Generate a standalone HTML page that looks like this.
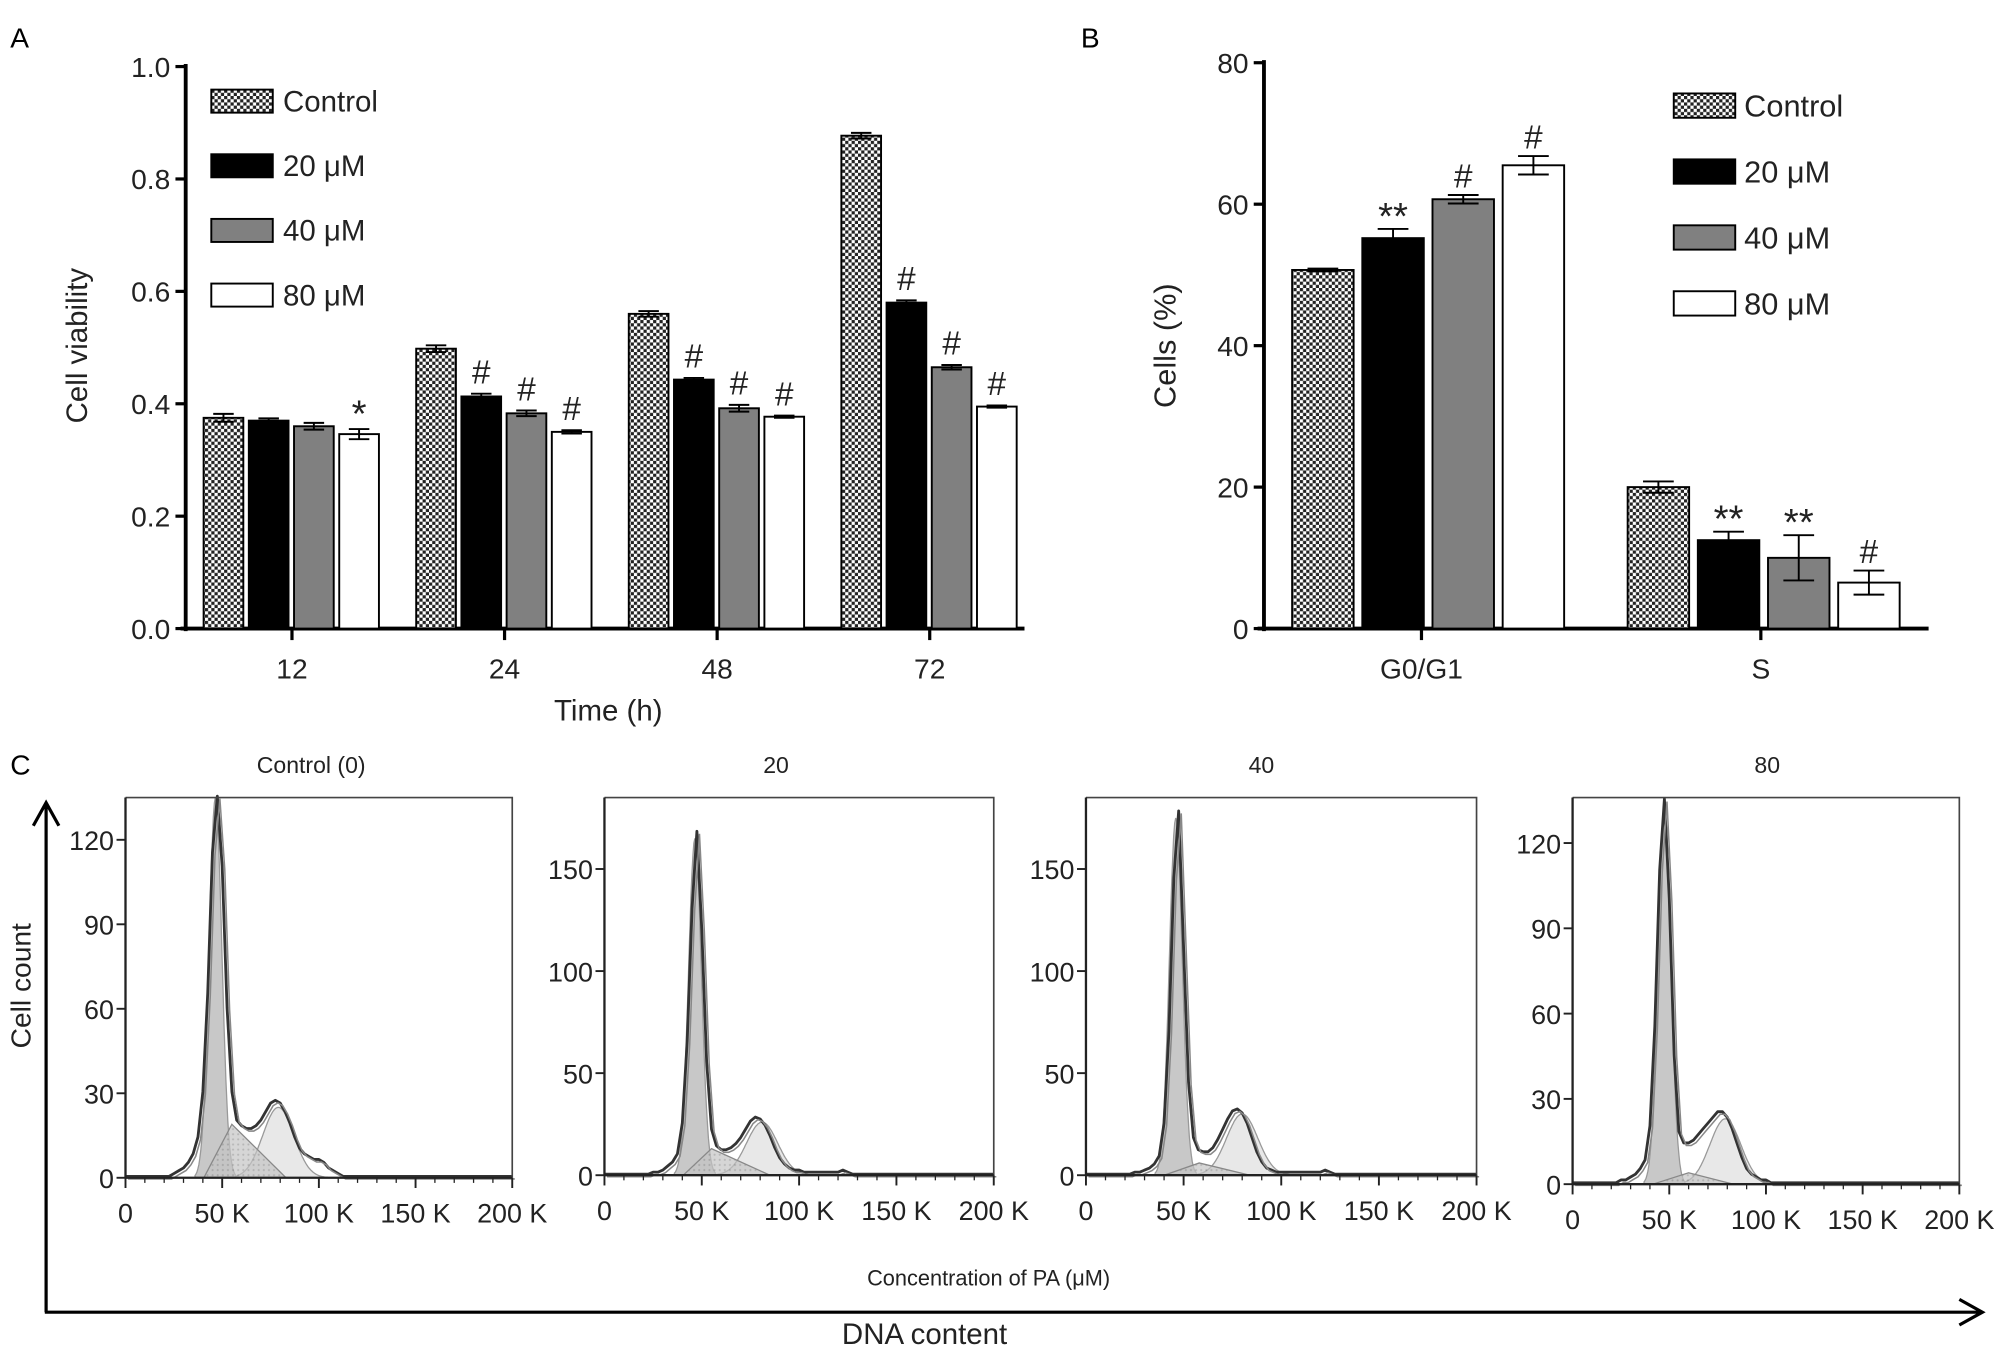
<!DOCTYPE html>
<html><head><meta charset="utf-8"><style>
html,body{margin:0;padding:0;background:#fff;}
svg{display:block;font-family:"Liberation Sans",sans-serif;}
</style></head><body>
<svg id="fig" width="2008" height="1357" viewBox="0 0 1568 1060" preserveAspectRatio="none" xmlns="http://www.w3.org/2000/svg">
<defs>
<pattern id="chk" width="5" height="5" patternUnits="userSpaceOnUse">
<rect width="5" height="5" fill="#fff"/><rect width="2.5" height="2.5" fill="#222"/><rect x="2.5" y="2.5" width="2.5" height="2.5" fill="#222"/>
</pattern>
<pattern id="dots" width="4" height="4" patternUnits="userSpaceOnUse">
<rect width="4" height="4" fill="#c4c4c4"/><circle cx="2" cy="2" r="0.8" fill="#999"/>
</pattern>
</defs>
<g id="A"></g>
<g id="B"></g>
<g id="C"></g>
</svg>
<script>
// ---- Panel A data ----
const aCategories = ["12","24","48","72"];
const aSeries = ["Control","20 μM","40 μM","80 μM"];
const aControl = [0.375,0.498,0.560,0.877];
const a20 = [0.370,0.413,0.443,0.580];
const a40 = [0.360,0.383,0.392,0.465];
const a80 = [0.346,0.350,0.377,0.395];
const aErrControl = [0.007,0.006,0.005,0.005];
const aErr20 = [0.004,0.005,0.003,0.004];
const aErr40 = [0.006,0.005,0.006,0.004];
const aErr80 = [0.009,0.003,0.002,0.002];
const aMarks20 = ["","#","#","#"];
const aMarks40 = ["","#","#","#"];
const aMarks80 = ["*","#","#","#"];
const aTicks = ["0.0","0.2","0.4","0.6","0.8","1.0"];
// ---- Panel B data ----
const bCategories = ["G0/G1","S"];
const bControl = [50.7,20.0];
const b20 = [55.2,12.5];
const b40 = [60.7,10.0];
const b80 = [65.5,6.5];
const bErrControl = [0.2,0.8];
const bErr20 = [1.3,1.2];
const bErr40 = [0.6,3.2];
const bErr80 = [1.3,1.7];
const bMarks20 = ["**","**"];
const bMarks40 = ["#","**"];
const bMarks80 = ["#","#"];
const bTicks = ["0","20","40","60","80"];
// ---- Panel C data ----
const cTitles = ["Control (0)","20","40","80"];
const cBins = [20,22.5,25,27.5,30,32.5,35,37.5,40,42.5,45,47.5,50,52.5,55,57.5,60,62.5,65,67.5,70,72.5,75,77.5,80,82.5,85,87.5,90,92.5,95,97.5,100,102.5,105,107.5,110,112.5,115,117.5,120,122.5,125,127.5,130];
const cCount0 = [0,0,1,2,3,5,8,14,30,65,115,135,110,60,30,20,18,17,17,18,20,23,26,27,26,23,19,14,10,8,7,6,6,5,3,2,1,0,0,0,0,0,0,0,0];
const cCount20 = [0,0,1,1,2,4,6,10,25,65,130,168,120,55,22,14,12,12,13,15,18,22,26,28,27,24,19,13,8,5,3,2,2,1,1,1,1,1,1,1,1,2,1,0,0];
const cCount40 = [0,0,1,1,2,3,5,9,25,70,145,178,110,45,18,12,11,11,13,17,22,27,31,32,30,25,18,11,6,3,2,1,1,1,1,1,1,1,1,1,1,2,1,0,0];
const cCount80 = [0,0,1,1,2,3,5,8,20,55,110,135,100,45,18,14,14,15,17,19,21,23,25,25,23,19,14,9,5,3,2,1,1,0,0,0,0,0,0,0,0,0,0,0,0];
const cG1Mean = [46.5,46.5,46,47.5];
const cG1Height = [135,165,175,133];
const cSMean = [55,55,58,60];
const cSHeight = [19,13,6,4];
const cG2Mean = [79,81,80,79];
const cG2Height = [25,26,30,23];
const cYMax = [135,185,185,136];
const cYTicks0 = [0,30,60,90,120];
const cYTicks20 = [0,50,100,150];
const cYTicks40 = [0,50,100,150];
const cYTicks80 = [0,30,60,90,120];
const cXTicks = [0,50,100,150,200];

const NS = "http://www.w3.org/2000/svg";
function el(parent, tag, attrs, text){
  const e = document.createElementNS(NS, tag);
  for (const k in attrs) e.setAttribute(k, attrs[k]);
  if (text !== undefined) e.textContent = text;
  parent.appendChild(e);
  return e;
}
const fills = ["url(#chk)","#000","#808080","#fff"];

// ================= Panel A =================
(function(){
  const g = document.getElementById("A");
  const x0 = 145, yTop = 52, yBot = 491;
  const yA = v => yBot - v*(yBot-yTop)/1.0;
  const cx = i => 228 + i*166;
  let t = el(g,"text",{x:8,y:37,"font-size":22});
    t.textContent="A";
  let ax = el(g,"line",{x1:x0,y1:yTop-2,x2:x0,y2:yBot+2,stroke:"#000","stroke-width":3});
   
  let bx = el(g,"line",{x1:x0-4,y1:yBot,x2:800,y2:yBot,stroke:"#000","stroke-width":3});
   
  aTicks.forEach((s)=>{
    const y = yA(parseFloat(s));
    el(g,"line",{x1:x0-8,y1:y,x2:x0,y2:y,stroke:"#000","stroke-width":2.5});
    const tt = el(g,"text",{x:x0-12,y:y+8,"font-size":22,"text-anchor":"end",fill:"#222"},s);
     
  });
  const yl = el(g,"text",{x:0,y:0,"font-size":23,"text-anchor":"middle",transform:"translate(68,270) rotate(-90)",fill:"#222"},"Cell viability");
   
  const xl = el(g,"text",{x:475,y:563,"font-size":23,"text-anchor":"middle",fill:"#222"},"Time (h)");
   
  const vals=[aControl,a20,a40,a80], errs=[aErrControl,aErr20,aErr40,aErr80], marks=[null,aMarks20,aMarks40,aMarks80];
  aCategories.forEach((c,i)=>{
    el(g,"line",{x1:cx(i),y1:yBot,x2:cx(i),y2:yBot+9,stroke:"#000","stroke-width":2.5});
    const tl = el(g,"text",{x:cx(i),y:530,"font-size":22,"text-anchor":"middle",fill:"#222"},c);
     
    for(let j=0;j<4;j++){
      const v=vals[j][i], e=errs[j][i];
      const bxl = cx(i)-69+j*35.3, w=31;
      const r = el(g,"rect",{x:bxl,y:yA(v),width:w,height:yBot-yA(v),fill:fills[j],stroke:"#000","stroke-width":1.5});
       
      const mx=bxl+w/2;
      el(g,"line",{x1:mx,y1:yA(v+e),x2:mx,y2:yA(v-e),stroke:"#000","stroke-width":1.5});
      el(g,"line",{x1:mx-8,y1:yA(v+e),x2:mx+8,y2:yA(v+e),stroke:"#000","stroke-width":1.5});
      el(g,"line",{x1:mx-8,y1:yA(v-e),x2:mx+8,y2:yA(v-e),stroke:"#000","stroke-width":1.5});
      if(marks[j] && marks[j][i]){
        const isStar = marks[j][i]==="*";
        const m=el(g,"text",{x:mx,y:yA(v+e)-(isStar?2:8),"font-size":isStar?30:26,"text-anchor":"middle",fill:"#222"},marks[j][i]);
         
      }
    }
  });
  aSeries.forEach((s,j)=>{
    const y=70+j*50.5;
    const sw=el(g,"rect",{x:165,y:y,width:48,height:18,fill:fills[j],stroke:"#000","stroke-width":1.5});
     
    const lt=el(g,"text",{x:221,y:y+17,"font-size":23,fill:"#222"},s);
     
  });
})();

// ================= Panel B =================
(function(){
  const g = document.getElementById("B");
  const x0 = 987, yTop = 49, yBot = 491;
  const yB = v => yBot - v*(yBot-yTop)/80;
  const cx = i => 1113 + i*262;
  let t = el(g,"text",{x:844,y:37,"font-size":22});
    t.textContent="B";
  let ax = el(g,"line",{x1:x0,y1:yTop-2,x2:x0,y2:yBot+2,stroke:"#000","stroke-width":3});
   
  let bx = el(g,"line",{x1:x0-5,y1:yBot,x2:1506,y2:yBot,stroke:"#000","stroke-width":3});
   
  bTicks.forEach(s=>{
    const y=yB(parseFloat(s));
    el(g,"line",{x1:x0-8,y1:y,x2:x0,y2:y,stroke:"#000","stroke-width":2.5});
    const tt=el(g,"text",{x:x0-12,y:y+8,"font-size":22,"text-anchor":"end",fill:"#222"},s);
     
  });
  const yl=el(g,"text",{x:0,y:0,"font-size":24,"text-anchor":"middle",transform:"translate(918,270) rotate(-90)",fill:"#222"},"Cells (%)");
   
  const vals=[bControl,b20,b40,b80], errs=[bErrControl,bErr20,bErr40,bErr80], marks=[null,bMarks20,bMarks40,bMarks80];
  bCategories.forEach((c,i)=>{
    const tx = i===0?1110:1375;
    el(g,"line",{x1:tx,y1:yBot,x2:tx,y2:yBot+9,stroke:"#000","stroke-width":2.5});
    const tl=el(g,"text",{x:tx,y:530,"font-size":22,"text-anchor":"middle",fill:"#222"},c);
     
    for(let j=0;j<4;j++){
      const v=vals[j][i], e=errs[j][i];
      const bxl=cx(i)-104+j*54.8, w=48;
      const r=el(g,"rect",{x:bxl,y:yB(v),width:w,height:yBot-yB(v),fill:fills[j],stroke:"#000","stroke-width":1.5});
       
      const mx=bxl+w/2;
      el(g,"line",{x1:mx,y1:yB(v+e),x2:mx,y2:yB(v-e),stroke:"#000","stroke-width":1.5});
      el(g,"line",{x1:mx-12,y1:yB(v+e),x2:mx+12,y2:yB(v+e),stroke:"#000","stroke-width":1.5});
      el(g,"line",{x1:mx-12,y1:yB(v-e),x2:mx+12,y2:yB(v-e),stroke:"#000","stroke-width":1.5});
      if(marks[j]){
        const isStar = marks[j][i]==="**";
        const m=el(g,"text",{x:mx,y:yB(v+e)-(isStar?0:6),"font-size":isStar?30:26,"text-anchor":"middle",fill:"#222"},marks[j][i]);
         
      }
    }
  });
  aSeries.forEach((s,j)=>{
    const y=73+j*51.5;
    const sw=el(g,"rect",{x:1307,y:y,width:48,height:19,fill:fills[j],stroke:"#000","stroke-width":1.5});
     
    const lt=el(g,"text",{x:1362,y:y+18,"font-size":24,fill:"#222"},s);
     
  });
})();

// ================= Panel C =================
(function(){
  const g=document.getElementById("C");
  const t=el(g,"text",{x:8,y:605,"font-size":22},"C");
   
  const va=el(g,"path",{d:"M36,1025 L36,627 M26,645 L36,627 L46,645",fill:"none",stroke:"#000","stroke-width":2.5});
   
  const ha=el(g,"path",{d:"M35,1025 L1548,1025 M1530,1015 L1548,1025 L1530,1035",fill:"none",stroke:"#000","stroke-width":2.5});
   
  const yl=el(g,"text",{x:0,y:0,"font-size":22,"text-anchor":"middle",transform:"translate(24,770) rotate(-90)",fill:"#222"},"Cell count");
   
  const xl=el(g,"text",{x:722,y:1050,"font-size":23,"text-anchor":"middle",fill:"#222"},"DNA content");
   
  const cl=el(g,"text",{x:772,y:1004,"font-size":17,"text-anchor":"middle",fill:"#222"},"Concentration of PA (μM)");
   

  const panels=[{x:98,r:400,b:920,tc:243},{x:472,r:776,b:918,tc:606},{x:848,r:1153,b:918,tc:985},{x:1228,r:1530,b:925,tc:1380}];
  const counts=[cCount0,cCount20,cCount40,cCount80];
  const yticks=[cYTicks0,cYTicks20,cYTicks40,cYTicks80];
  const top=623;
  panels.forEach((p,k)=>{
    const pg=el(g,"g",{});
     
    const X=v=>p.x+v*(p.r-p.x)/200;
    const Y=v=>p.b-v*(p.b-top)/cYMax[k];
    const tt=el(pg,"text",{x:p.tc,y:604,"font-size":18,"text-anchor":"middle",fill:"#222"},cTitles[k]);
     
    const gauss=(x,m,h,s)=>h*Math.exp(-0.5*((x-m)/s)**2);
    const comp=(m,h,s,fill,name)=>{
      let d="M"+X(m-3.2*s)+","+Y(0);
      for(let x=m-3.2*s;x<=m+3.2*s;x+=0.5) d+=" L"+X(x).toFixed(1)+","+Y(gauss(x,m,h,s)).toFixed(1);
      d+=" L"+X(m+3.2*s)+","+Y(0)+" Z";
      const c=el(pg,"path",{d:d,fill:fill,stroke:"#999","stroke-width":1});
       
    };
    comp(cG2Mean[k],cG2Height[k],8,"#e8e8e8","g2-component");
    comp(cG1Mean[k],cG1Height[k],3.3,"#c8c8c8","g1-component");
    let sd="M"+X(cG1Mean[k]-6)+","+Y(0)+" L"+X(cSMean[k])+","+Y(cSHeight[k])+" L"+X(cG2Mean[k]+4)+","+Y(0)+" Z";
    const sp=el(pg,"path",{d:sd,fill:"url(#dots)","fill-opacity":0.7,stroke:"#888","stroke-width":1});
     
    let d="M"+X(0)+","+Y(0.5)+" L"+X(cBins[0])+","+Y(0.5);
    cBins.forEach((b,i)=>{ d+=" L"+X(b).toFixed(1)+","+Y(counts[k][i]+0.5).toFixed(1); });
    d+=" L"+X(200)+","+Y(0.5);
    const ln=el(pg,"path",{d:d,fill:"none",stroke:"#333","stroke-width":2.2,"stroke-linejoin":"round"});
     
    const ln2=el(pg,"path",{d:d,fill:"none",stroke:"#888","stroke-width":1.2,transform:"translate(2,2)"});
     
    el(pg,"path",{d:`M${p.x},${top} L${p.r},${top} L${p.r},${p.b}`,fill:"none",stroke:"#444","stroke-width":1.3});
    el(pg,"line",{x1:p.x,y1:top,x2:p.x,y2:p.b,stroke:"#222","stroke-width":1.8});
    el(pg,"line",{x1:p.x,y1:p.b,x2:p.r,y2:p.b,stroke:"#222","stroke-width":1.8});
    yticks[k].forEach(v=>{
      el(pg,"line",{x1:p.x-7,y1:Y(v),x2:p.x,y2:Y(v),stroke:"#222","stroke-width":1.5});
      const l=el(pg,"text",{x:p.x-9,y:Y(v)+8,"font-size":21,"text-anchor":"end",fill:"#222"},String(v));
       
    });
    cXTicks.forEach(v=>{
      el(pg,"line",{x1:X(v),y1:p.b,x2:X(v),y2:p.b+8,stroke:"#222","stroke-width":1.5});
      const l=el(pg,"text",{x:X(v),y:p.b+35,"font-size":21,"text-anchor":"middle",fill:"#222"},v===0?"0":v+" K");
       
    });
    for(let v=10;v<200;v+=10){ if(v%50) el(pg,"line",{x1:X(v),y1:p.b,x2:X(v),y2:p.b+4,stroke:"#222","stroke-width":1}); }
  });
})();
</script>
</body></html>
